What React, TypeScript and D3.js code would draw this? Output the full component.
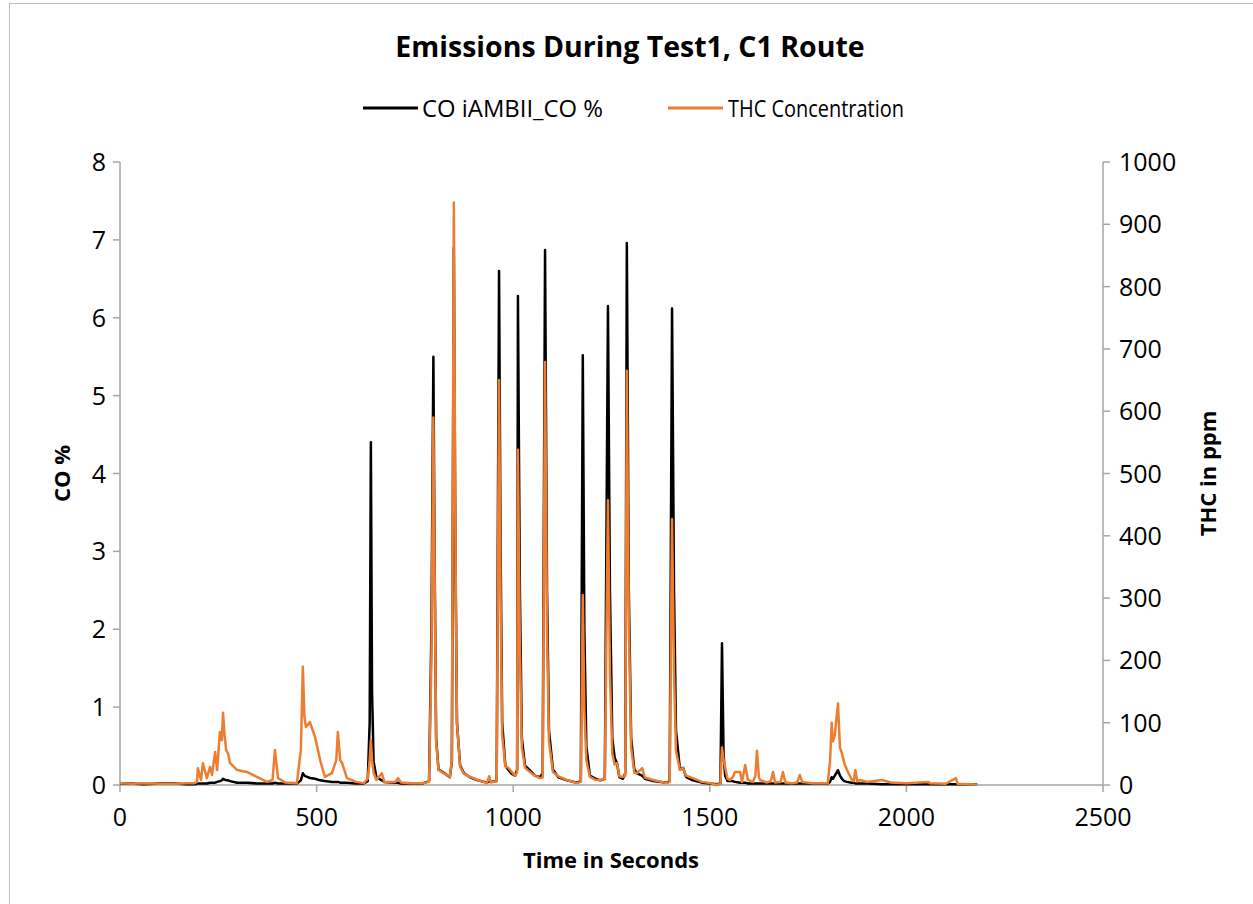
import React from "react";
import * as d3 from "d3";

// Sample times (s) along the test run, with the CO (%) and THC (ppm) readings at each one
const timeSec = [
  0, 30, 60, 100, 140, 170, 190, 196, 198, 206, 211, 221, 229, 234, 242, 247, 254, 259, 262, 266,
  270, 275, 280, 298, 323, 348, 374, 388, 394, 402, 420, 450, 453, 460, 465, 469, 473, 483, 496, 509,
  521, 539, 550, 554, 560, 565, 577, 600, 620, 630, 635, 638, 641, 645, 652, 666, 672, 700, 707, 715,
  740, 770, 786, 792, 797, 800, 804, 810, 825, 839, 844, 849, 853, 857, 865, 875, 890, 910, 933, 939,
  943, 958, 964, 968, 972, 980, 987, 995, 1005, 1010, 1012, 1017, 1022, 1030, 1040, 1055, 1068, 1075, 1081, 1086,
  1091, 1101, 1115, 1137, 1162, 1172, 1177, 1181, 1186, 1195, 1210, 1221, 1233, 1241, 1246, 1252, 1258, 1264, 1270, 1279,
  1285, 1289, 1294, 1300, 1308, 1315, 1328, 1335, 1356, 1391, 1398, 1404, 1409, 1414, 1424, 1432, 1440, 1457, 1480, 1501,
  1518, 1527, 1531, 1535, 1539, 1545, 1551, 1558, 1564, 1577, 1582, 1590, 1597, 1610, 1616, 1620, 1625, 1628, 1645, 1655,
  1661, 1666, 1680, 1686, 1692, 1710, 1722, 1729, 1735, 1760, 1800, 1806, 1810, 1813, 1818, 1826, 1831, 1836, 1842, 1849,
  1860, 1866, 1870, 1875, 1882, 1900, 1938, 1960, 2000, 2055, 2060, 2100, 2126, 2130, 2180,
];

const coPercent = [
  0.02, 0.02, 0.01, 0.02, 0.02, 0.01, 0.01, 0.02, 0.02, 0.02, 0.02, 0.02, 0.03, 0.03, 0.03, 0.04, 0.05, 0.06, 0.08, 0.07,
  0.06, 0.06, 0.05, 0.03, 0.03, 0.02, 0.02, 0.02, 0.03, 0.02, 0.02, 0.02, 0.03, 0.06, 0.15, 0.12, 0.11, 0.09, 0.08, 0.06,
  0.05, 0.04, 0.04, 0.04, 0.03, 0.03, 0.03, 0.02, 0.02, 0.05, 0.8, 4.4, 1.2, 0.3, 0.1, 0.06, 0.04, 0.03, 0.03, 0.02,
  0.02, 0.02, 0.05, 2.0, 5.5, 3.0, 0.6, 0.2, 0.15, 0.1, 0.3, 6.9, 3.0, 0.8, 0.25, 0.15, 0.1, 0.06, 0.03, 0.05,
  0.04, 0.05, 6.6, 3.0, 0.8, 0.25, 0.2, 0.15, 0.12, 0.2, 6.28, 2.5, 0.6, 0.25, 0.2, 0.12, 0.1, 0.15, 6.87, 2.5,
  0.7, 0.2, 0.1, 0.06, 0.03, 0.05, 5.52, 2.0, 0.5, 0.12, 0.08, 0.06, 0.08, 6.15, 2.5, 0.6, 0.35, 0.28, 0.1, 0.08,
  0.15, 6.96, 2.5, 0.6, 0.2, 0.15, 0.12, 0.08, 0.05, 0.03, 0.05, 6.12, 2.5, 0.7, 0.2, 0.22, 0.1, 0.06, 0.03, 0.02,
  0.01, 0.02, 1.82, 0.4, 0.12, 0.05, 0.05, 0.05, 0.04, 0.03, 0.03, 0.03, 0.02, 0.02, 0.02, 0.02, 0.02, 0.02, 0.02, 0.02,
  0.02, 0.02, 0.02, 0.02, 0.02, 0.02, 0.02, 0.02, 0.02, 0.02, 0.02, 0.04, 0.1, 0.08, 0.12, 0.19, 0.12, 0.08, 0.05, 0.04,
  0.03, 0.03, 0.02, 0.02, 0.02, 0.02, 0.01, 0.01, 0.01, 0.01, 0.01, 0.01, 0.01, 0.01, 0.01,
];

const thcPpm = [
  3, 2, 3, 2, 2, 3, 3, 5, 27, 8, 35, 11, 29, 16, 53, 24, 85, 72, 116, 80,
  56, 51, 35, 24, 21, 13, 5, 8, 56, 11, 4, 3, 20, 56, 190, 110, 93, 101, 77, 40,
  13, 19, 40, 85, 40, 35, 11, 5, 3, 10, 40, 72, 40, 20, 8, 19, 5, 5, 11, 4,
  3, 3, 5, 200, 590, 350, 70, 24, 18, 13, 40, 935, 400, 100, 29, 18, 13, 8, 3, 14,
  4, 6, 650, 300, 80, 30, 28, 22, 15, 20, 538, 220, 60, 28, 22, 15, 11, 12, 679, 250,
  70, 21, 14, 8, 3, 5, 305, 120, 40, 13, 8, 8, 10, 457, 180, 50, 33, 35, 14, 13,
  15, 665, 260, 60, 20, 19, 27, 12, 8, 3, 5, 427, 180, 55, 24, 27, 15, 11, 5, 3,
  0, 2, 60, 40, 29, 10, 8, 12, 21, 21, 5, 32, 8, 5, 15, 55, 12, 8, 4, 6,
  21, 4, 5, 21, 4, 3, 4, 16, 5, 3, 3, 40, 100, 70, 80, 131, 60, 51, 35, 24,
  10, 6, 24, 6, 8, 5, 8, 4, 3, 5, 3, 2, 11, 2, 1,
];

const xTicks = [0, 500, 1000, 1500, 2000, 2500];
const coTicks = [0, 1, 2, 3, 4, 5, 6, 7, 8];
const thcTicks = [0, 100, 200, 300, 400, 500, 600, 700, 800, 900, 1000];

const chartTitle = "Emissions During Test1, C1 Route";
const coLabel = "CO iAMBII_CO %";
const thcLabel = "THC Concentration";

const FONT = "'Open Sans', 'Noto Sans', sans-serif";
const AXIS_GRAY = "#a6a6a6";
const CO_COLOR = "#000000";
const THC_COLOR = "#ed7d31";

export default function App() {
  const W = 1253;
  const H = 904;
  const left = 120;
  const right = 1103;
  const top = 162;
  const bottom = 785;

  const x = d3.scaleLinear().domain([0, 2500]).range([left, right]);
  const yCo = d3.scaleLinear().domain([0, 8]).range([bottom, top]);
  const yThc = d3.scaleLinear().domain([0, 1000]).range([bottom, top]);

  const idx = timeSec.map((_, i) => i);
  const coLine = d3
    .line<number>()
    .x((i) => x(timeSec[i]))
    .y((i) => yCo(coPercent[i]))(idx) as string;
  const thcLine = d3
    .line<number>()
    .x((i) => x(timeSec[i]))
    .y((i) => yThc(thcPpm[i]))(idx) as string;

  const tickLen = 7;
  const tickFont = 25;
  const titleFont = 22;

  return (
    <svg
      width={W}
      height={H}
      style={{ position: "absolute", left: 0, top: 0, background: "#fff" }}
      fontFamily={FONT}
    >
      <rect x={0} y={0} width={W} height={H} fill="#fff" />
      <rect x={9.5} y={3.5} width={W + 20} height={H + 20} fill="none" stroke="#bfbfbf" strokeWidth={1} />

      {/* title */}
      <text x={630} y={57} textAnchor="middle" fontSize={28.5} fontWeight="bold" fill="#000">
        {chartTitle}
      </text>

      {/* legend */}
      <line x1={363} x2={418} y1={108} y2={108} stroke={CO_COLOR} strokeWidth={3} />
      <text x={422} y={116.5} fontSize={23.5} fill="#000" textLength={181} lengthAdjust="spacingAndGlyphs">
        {coLabel}
      </text>
      <line x1={668} x2={723} y1={108} y2={108} stroke={THC_COLOR} strokeWidth={3} />
      <text x={728} y={116.5} fontSize={23.5} fill="#000" textLength={176} lengthAdjust="spacingAndGlyphs">
        {thcLabel}
      </text>

      {/* axes */}
      <line x1={left} x2={left} y1={top} y2={bottom} stroke={AXIS_GRAY} strokeWidth={1.5} />
      <line x1={right} x2={right} y1={top} y2={bottom} stroke={AXIS_GRAY} strokeWidth={1.5} />
      <line x1={left} x2={right} y1={bottom} y2={bottom} stroke={AXIS_GRAY} strokeWidth={1.5} />

      {coTicks.map((t) => (
        <g key={`co${t}`}>
          <line x1={left - tickLen} x2={left} y1={yCo(t)} y2={yCo(t)} stroke={AXIS_GRAY} strokeWidth={1.5} />
          <text x={106} y={yCo(t) + 9} textAnchor="end" fontSize={tickFont} fill="#000">
            {t}
          </text>
        </g>
      ))}
      {thcTicks.map((t) => (
        <g key={`thc${t}`}>
          <line x1={right} x2={right + tickLen} y1={yThc(t)} y2={yThc(t)} stroke={AXIS_GRAY} strokeWidth={1.5} />
          <text x={1119} y={yThc(t) + 9} textAnchor="start" fontSize={tickFont} fill="#000">
            {t}
          </text>
        </g>
      ))}
      {xTicks.map((t) => (
        <g key={`x${t}`}>
          <line x1={x(t)} x2={x(t)} y1={bottom} y2={bottom + tickLen} stroke={AXIS_GRAY} strokeWidth={1.5} />
          <text x={x(t)} y={826} textAnchor="middle" fontSize={tickFont} fill="#000">
            {t}
          </text>
        </g>
      ))}

      {/* axis titles */}
      <text
        transform={`translate(70,${(top + bottom) / 2}) rotate(-90)`}
        textAnchor="middle"
        fontSize={titleFont}
        fontWeight="bold"
        fill="#000"
      >
        CO %
      </text>
      <text
        transform={`translate(1216,${(top + bottom) / 2}) rotate(-90)`}
        textAnchor="middle"
        fontSize={titleFont}
        fontWeight="bold"
        fill="#000"
      >
        THC in ppm
      </text>
      <text x={611} y={868} textAnchor="middle" fontSize={titleFont} fontWeight="bold" fill="#000">
        Time in Seconds
      </text>

      {/* series */}
      <path d={coLine} fill="none" stroke={CO_COLOR} strokeWidth={2.5} strokeLinejoin="round" />
      <path d={thcLine} fill="none" stroke={THC_COLOR} strokeWidth={2.5} strokeLinejoin="round" />
    </svg>
  );
}
